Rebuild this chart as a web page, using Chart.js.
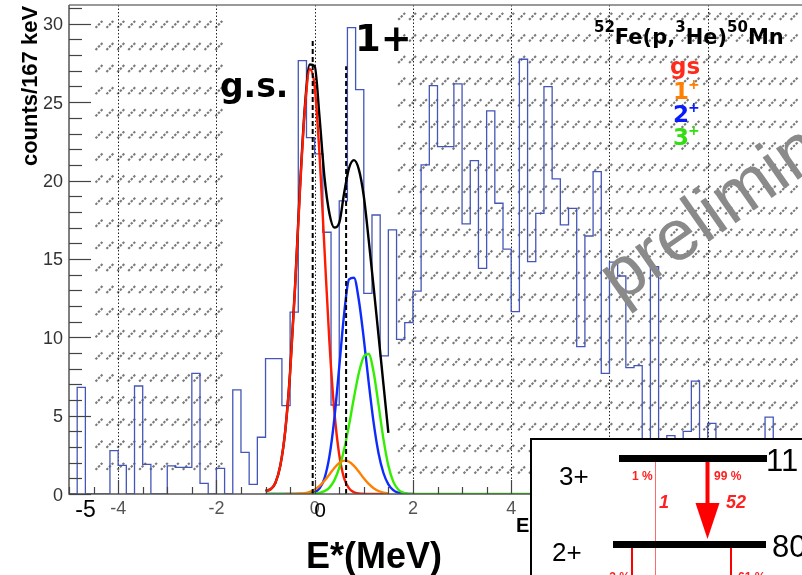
<!DOCTYPE html>
<html>
<head>
<meta charset="utf-8">
<script src="https://cdn.jsdelivr.net/npm/chart.js@4.4.1/dist/chart.umd.min.js"></script>
<style>
  html, body { margin: 0; padding: 0; background: #fff; overflow: hidden; }
  #wrap { position: relative; width: 802px; height: 575px; overflow: hidden; }
  #spectrum { position: absolute; left: 0; top: 0; }
</style>
</head>
<body>
<div id="wrap"><canvas id="spectrum" width="812" height="575"></canvas></div>
<script>
// excitation spectrum, 167 keV bins starting at -5 MeV
const binStart = -5;
const binWidth = 1 / 6;
const counts = [
    0, 6.8, 0, 0, 0, 2.77, 1.83, 0, 6.89, 1.89,
    0, 0, 1.79, 1.7, 1.7, 7.7, 0.68, 0, 1.64, 0,
    6.64, 2.66, 0.62, 3.62, 8.64, 8.64, 5.64, 11.6, 27.65, 22.74,
    21.7, 16.7, 5.68, 18.7, 29.76, 25.8, 12.8, 17.8, 8.81, 16.85,
    9.87, 10.93, 12.95, 21.0, 26.06, 22.17, 22.17, 26.17, 17.23, 21.27,
    14.4, 24.44, 18.55, 15.62, 11.63, 27.74, 14.83, 17.91, 25.99, 20.1,
    17.17, 18.23, 9.4, 16.46, 20.57, 7.7, 14.79, 13.91, 8.06, 8.19,
    2.2, 14.5, 1.2, 3.72, 2.6, 4.0, 7.2, 1.6, 4.51, 2.1,
    0.7, 3.1, 1.5, 0, 2.3, 4.9, 1.4, 0, 2.5, 0.6
];

// fitted peak shapes, sampled every 100 keV
const fitX = [
    -1.0, -0.9, -0.8, -0.7, -0.6, -0.5, -0.4, -0.3, -0.2, -0.1,
    0.0, 0.1, 0.2, 0.3, 0.4, 0.5, 0.6, 0.7, 0.8, 0.9,
    1.0, 1.1, 1.2, 1.3, 1.4, 1.5, 1.6, 1.7, 1.8, 1.9, 2.0
];
const fitGs = [
    0.2, 0.3, 0.7, 1.8, 4.0, 7.7, 13.1, 19.3, 24.5, 27.1,
    26.0, 21.6, 15.6, 9.7, 5.3, 2.5, 1.0, 0.36, 0.11, 0.03,
    0.01, 0, 0, 0, 0, 0, null, null, null, null, null
];
const fit1p = [
    null, null, null, null, 0, 0, 0.01, 0.03, 0.06, 0.14,
    0.29, 0.52, 0.85, 1.25, 1.66, 1.98, 2.13, 2.06, 1.8, 1.42,
    1.0, 0.64, 0.37, 0.19, 0.09, 0.04, null, null, null, null, null
];
const fit2p = [
    0, 0, 0, 0, 0, 0, 0, 0, 0, 0.03,
    0.11, 0.36, 1.0, 2.4, 4.8, 8.1, 11.5, 13.7, 13.8, 12.35,
    9.9, 7.1, 4.55, 2.6, 1.34, 0.62, 0.25, 0.09, 0.03, 0.01, 0
];
const fit3p = [
    0, 0, 0, 0, 0, 0, 0, 0, 0, 0.01,
    0.03, 0.07, 0.18, 0.41, 0.87, 1.66, 2.85, 4.41, 6.16, 7.74,
    8.77, 8.93, 7.77, 5.69, 3.5, 1.81, 0.79, 0.29, 0.09, 0.02, 0
];
const fit3pEnd = 5.0;
const fitSum = [
    0.2, 0.3, 0.7, 1.8, 4.0, 7.8, 13.2, 19.5, 24.7, 27.4,
    27.3, 24.0, 20.2, 17.9, 17.0, 17.3, 19.2, 20.8, 21.3, 20.7,
    19.0, 16.2, 13.2, 10.1, 7.0, 3.9, null, null, null, null, null
];

// peak positions marked with dashed lines (MeV, height in counts)
const markE = [-0.04, 0.64];
const markTop = [28.9, 27.3];

const xTicks = [-4, -2, 0, 2, 4, 6, 8];
const yTicks = [0, 5, 10, 15, 20, 25, 30];

const SANS = "'Liberation Sans', Arial, Helvetica, sans-serif";
const WIDE = "'DejaVu Sans', Verdana, sans-serif";

const histPoints = counts.map((c, i) => ({ x: binStart + i * binWidth, y: c }));
histPoints.push({ x: binStart + counts.length * binWidth, y: counts[counts.length - 1] });

const curve = (ys) => fitX.map((x, i) => ({ x: x, y: ys[i] }));

const lineSet = (data, color, order, extra) => Object.assign({
    data: data,
    showLine: true,
    borderColor: color,
    borderWidth: 2.4,
    pointRadius: 0,
    cubicInterpolationMode: 'monotone',
    spanGaps: false,
    order: order
}, extra || {});

const markSets = markE.map((e, i) => lineSet(
    [{ x: e, y: 0 }, { x: e, y: markTop[i] }], '#000', 1,
    { borderWidth: 2, borderDash: [5, 3], cubicInterpolationMode: 'default', tension: 0 }
));

// hatched bands in the background (MeV / counts)
const hatchBands = [
    { from: -4.46, to: -1.68, low: 1.53, high: 30.19, rowStep: 22.1 },
    { from: 1.70, to: 10, low: 1.0, high: 30.7, rowStep: 21.6 }
];

function drawHatch(ctx, x0, x1, y0, y1, rowStep) {
    ctx.save();
    ctx.strokeStyle = '#7a7a7a';
    ctx.lineWidth = 2.1;
    ctx.setLineDash([2.4, 1.3]);
    for (let ry = y0; ry + 7 <= y1 + 0.5; ry += rowStep) {
        for (let rx = x0; rx + 7 <= x1 + 0.5; rx += 10.9) {
            ctx.beginPath();
            ctx.moveTo(rx, ry + 7);
            ctx.lineTo(rx + 7, ry);
            ctx.stroke();
        }
    }
    ctx.restore();
}

function text(ctx, str, x, y, font, color, align) {
    ctx.font = font;
    ctx.fillStyle = color;
    ctx.textAlign = align || 'left';
    ctx.textBaseline = 'alphabetic';
    ctx.fillText(str, x, y);
    return ctx.measureText(str).width;
}

function drawLevelScheme(ctx) {
    ctx.save();
    ctx.fillStyle = '#fff';
    ctx.fillRect(530, 438, 300, 160);
    ctx.strokeStyle = '#000';
    ctx.lineWidth = 2;
    ctx.strokeRect(531, 439, 300, 160);

    // weak branch
    ctx.strokeStyle = '#ff6a6a';
    ctx.lineWidth = 1;
    ctx.beginPath(); ctx.moveTo(655.5, 462); ctx.lineTo(655.5, 580); ctx.stroke();

    // levels
    ctx.fillStyle = '#000';
    ctx.fillRect(619, 455, 148, 7);
    ctx.fillRect(613, 541, 153, 7);

    // strong branch arrow
    ctx.strokeStyle = '#ff0000';
    ctx.lineWidth = 4;
    ctx.beginPath(); ctx.moveTo(707.5, 462); ctx.lineTo(707.5, 506); ctx.stroke();
    ctx.fillStyle = '#ff0000';
    ctx.beginPath();
    ctx.moveTo(695.5, 503); ctx.lineTo(719.5, 503); ctx.lineTo(707.5, 539);
    ctx.closePath(); ctx.fill();

    ctx.lineWidth = 2;
    ctx.beginPath();
    ctx.moveTo(632, 548); ctx.lineTo(632, 580);
    ctx.moveTo(731, 548); ctx.lineTo(731, 580);
    ctx.stroke();

    text(ctx, '3+', 559, 485, '26px ' + SANS, '#000');
    text(ctx, '2+', 552, 561, '26px ' + SANS, '#000');
    text(ctx, '11', 766, 471, '31px ' + SANS, '#000');
    text(ctx, '80', 772, 557, '31px ' + SANS, '#000');

    const small = 'bold 12px ' + SANS;
    text(ctx, '1 %', 632, 480, small, '#ff2020');
    text(ctx, '99 %', 714, 480, small, '#ff2020');
    text(ctx, '3 %', 630, 581, small, '#ff2020', 'right');
    text(ctx, '61 %', 738, 581, small, '#ff2020');
    text(ctx, '1', 659, 508, 'italic bold 18px ' + SANS, '#ff2020');
    text(ctx, '52', 726, 508, 'italic bold 18px ' + SANS, '#ff2020');
    ctx.restore();
}

const rootFrame = {
    id: 'rootFrame',
    beforeDatasetsDraw(chart) {
        const { ctx, chartArea: a, scales: { x, y } } = chart;
        ctx.save();
        ctx.beginPath();
        ctx.rect(a.left, a.top, a.right - a.left, a.bottom - a.top);
        ctx.clip();
        hatchBands.forEach(b => {
            drawHatch(ctx, x.getPixelForValue(b.from), x.getPixelForValue(b.to),
                y.getPixelForValue(b.high), y.getPixelForValue(b.low), b.rowStep);
        });
        // dotted verticals at the labelled energies
        ctx.strokeStyle = '#222';
        ctx.lineWidth = 1;
        ctx.setLineDash([1.5, 2]);
        xTicks.forEach(v => {
            const px = Math.round(x.getPixelForValue(v)) + 0.5;
            ctx.beginPath(); ctx.moveTo(px, a.top); ctx.lineTo(px, a.bottom); ctx.stroke();
        });
        ctx.restore();
    },
    afterDatasetsDraw(chart) {
        const { ctx, chartArea: a, scales: { x, y } } = chart;
        ctx.save();

        // frame
        ctx.lineWidth = 1.5;
        ctx.strokeStyle = '#777';
        ctx.beginPath(); ctx.moveTo(a.left, a.top); ctx.lineTo(a.right, a.top); ctx.stroke();
        ctx.strokeStyle = '#555';
        ctx.beginPath(); ctx.moveTo(a.left, a.top); ctx.lineTo(a.left, a.bottom); ctx.lineTo(a.right, a.bottom); ctx.stroke();

        // inward ticks
        ctx.lineWidth = 1.2;
        ctx.strokeStyle = '#444';
        for (let v = 0; v <= y.max; v += 1) {
            const py = Math.round(y.getPixelForValue(v)) + 0.5;
            const len = v % 5 === 0 ? 22 : 13;
            ctx.beginPath(); ctx.moveTo(a.left, py); ctx.lineTo(a.left + len, py); ctx.stroke();
        }
        for (let v = x.min; v <= x.max; v += 0.5) {
            const px = Math.round(x.getPixelForValue(v)) + 0.5;
            const len = v % 2 === 0 ? 14 : 7;
            ctx.beginPath(); ctx.moveTo(px, a.bottom); ctx.lineTo(px, a.bottom - len); ctx.stroke();
        }

        // tick labels
        yTicks.forEach(v => {
            text(ctx, String(v), a.left - 6, y.getPixelForValue(v) + 6.5, '18px ' + SANS, '#333', 'right');
        });
        xTicks.forEach(v => {
            text(ctx, String(v), x.getPixelForValue(v), 514, '18px ' + SANS, '#555', 'center');
        });
        text(ctx, '-5', 85.5, 517, '23px ' + SANS, '#000', 'center');
        text(ctx, '0', 320, 517, '21px ' + SANS, '#000', 'center');

        // axis titles
        text(ctx, 'E*(MeV)', 374, 568, 'bold 36px ' + SANS, '#000', 'center');
        ctx.save();
        ctx.translate(37, 86);
        ctx.rotate(-Math.PI / 2);
        text(ctx, 'counts/167 keV', 0, 0, 'bold 22px ' + SANS, '#000', 'center');
        ctx.restore();

        // peak labels
        text(ctx, 'g.s.', 220, 97, 'bold 33px ' + WIDE, '#000');
        text(ctx, '1+', 355, 51, 'bold 37px ' + WIDE, '#000');

        // reaction
        let cx = 594;
        cx += text(ctx, '52', cx, 32, 'bold 15px ' + WIDE, '#000');
        cx += text(ctx, 'Fe(p,', cx, 44, 'bold 21px ' + WIDE, '#000');
        cx += text(ctx, '3', cx, 32, 'bold 15px ' + WIDE, '#000');
        cx += text(ctx, 'He)', cx, 44, 'bold 21px ' + WIDE, '#000');
        cx += text(ctx, '50', cx, 32, 'bold 15px ' + WIDE, '#000');
        text(ctx, 'Mn', cx, 44, 'bold 21px ' + WIDE, '#000');

        // component key
        const key = [['gs', '', '#ff2a1a', 74], ['1', '+', '#ff8000', 99], ['2', '+', '#0a1aff', 122], ['3', '+', '#33dd11', 145]];
        key.forEach(([main, sup, color, base]) => {
            if (!sup) {
                text(ctx, main, 685, base, 'bold 23px ' + WIDE, color, 'center');
            } else {
                const w = text(ctx, main, 673, base, 'bold 23px ' + WIDE, color);
                text(ctx, sup, 673 + w - 1, base - 10, 'bold 14px ' + WIDE, color);
            }
        });

        // partly covered label behind the inset
        text(ctx, 'E', 516, 532, 'bold 20px ' + SANS, '#000');

        // watermark
        ctx.save();
        ctx.translate(620, 304);
        ctx.rotate(-35 * Math.PI / 180);
        text(ctx, 'preliminary', 0, 0, '72px ' + SANS, '#8a8a8a');
        ctx.restore();

        drawLevelScheme(ctx);
        ctx.restore();
    }
};

new Chart(document.getElementById('spectrum'), {
    type: 'scatter',
    data: {
        datasets: [
            lineSet(histPoints, '#4456b8', 9, { borderWidth: 1.3, stepped: true, cubicInterpolationMode: 'default', tension: 0 }),
            lineSet(curve(fitSum), '#000000', 7),
            lineSet(curve(fitGs), '#ff1a00', 6),
            lineSet(curve(fit2p), '#0d2bff', 5),
            lineSet(curve(fit3p).concat([{ x: fit3pEnd, y: 0 }]), '#33ee00', 4),
            lineSet(curve(fit1p), '#ff8000', 3),
            ...markSets
        ]
    },
    options: {
        responsive: false,
        animation: false,
        events: [],
        layout: { padding: { left: 69, top: 5, right: 6, bottom: 81 } },
        scales: {
            x: { type: 'linear', min: -5, max: 10, display: false },
            y: { type: 'linear', min: 0, max: 31.2, display: false }
        },
        plugins: {
            legend: { display: false },
            tooltip: { enabled: false }
        }
    },
    plugins: [rootFrame]
});
</script>
</body>
</html>
